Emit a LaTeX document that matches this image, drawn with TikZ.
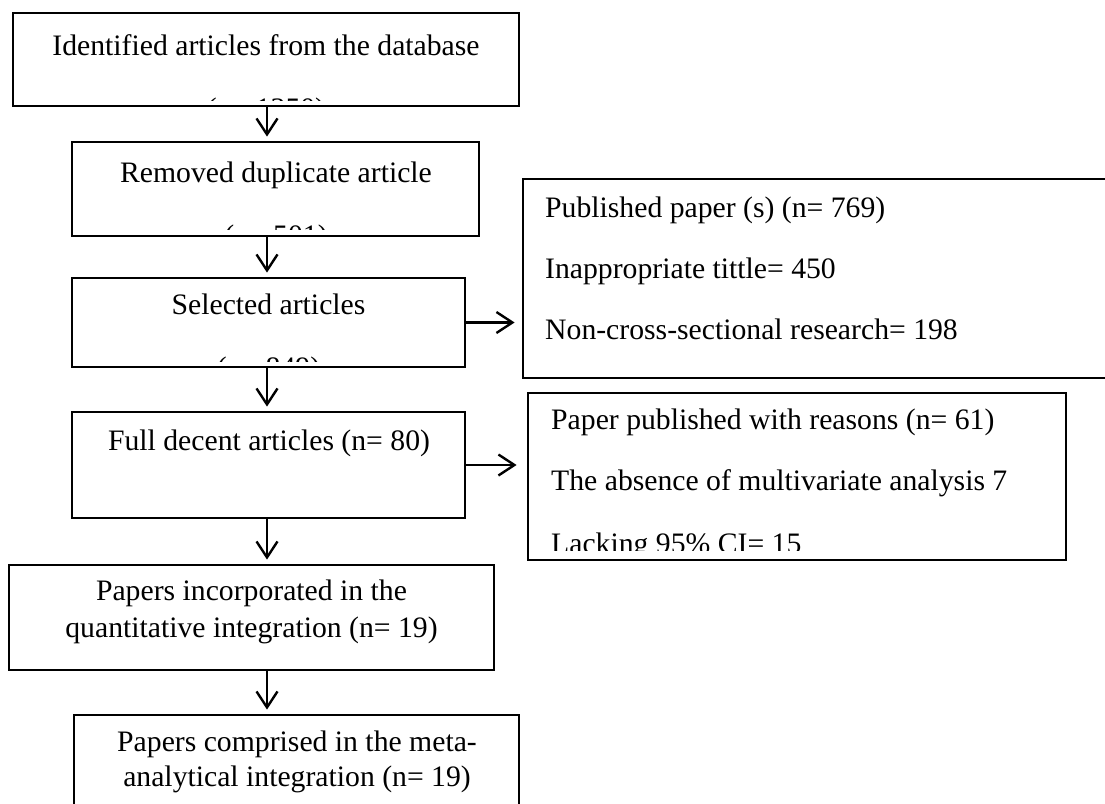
\documentclass[tikz,border=0pt]{standalone}
\usepackage{fontspec}
\setmainfont{Liberation Serif}
\usetikzlibrary{arrows.meta}

\tikzset{
  caja/.style={draw, line width=2.8pt, inner sep=0pt},
  texto/.style={anchor=base, inner sep=0pt, font=\fontsize{29.7}{36}\selectfont},
  textoizq/.style={texto, anchor=base west},
  flecha/.style={line width=2.4pt, -{Straight Barb[length=16pt,width=21pt]}, shorten >=4pt}
}

\begin{document}
\begin{tikzpicture}[x=1pt,y=-1pt]

\clip (0,0) rectangle (1105,803);

% Cajas de la columna principal
\node[caja, minimum width=506pt, minimum height=93pt] (b1) at (266,59.5) {};
\node[caja, minimum width=407pt, minimum height=94pt] (b2) at (275.5,189) {};
\node[caja, minimum width=393pt, minimum height=89pt] (b3) at (268.5,322.5) {};
\node[caja, minimum width=393pt, minimum height=106pt] (b4) at (268.5,465) {};
\node[caja, minimum width=485pt, minimum height=105pt] (b5) at (251.5,617.5) {};
\node[caja, minimum width=445pt, minimum height=100pt] (b6) at (296.5,765) {};

% Cajas de exclusiones
\node[caja, minimum width=597pt, minimum height=199pt] (bA) at (821.5,278.5) {};
\node[caja, minimum width=538pt, minimum height=167pt] (bB) at (797,476.5) {};

% Textos
\node[texto] (t1) at (266,55) {Identified articles from the database};
\node[texto] (t2) at (276,182) {Removed duplicate article};
\node[texto] (t3) at (268.5,314) {Selected articles};
\node[texto] (t4) at (269,450) {Full decent articles (n= 80)};
\node[texto] (t5a) at (251.5,600) {Papers incorporated in the};
\node[texto] (t5b) at (251.5,637) {quantitative integration (n= 19)};
\node[texto] (t6a) at (297,751) {Papers comprised in the meta-};
\node[texto] (t6b) at (297,786) {analytical integration (n= 19)};

\node[textoizq] (tA1) at (545,217) {Published paper (s) (n= 769)};
\node[textoizq] (tA2) at (545,278) {Inappropriate tittle= 450};
\node[textoizq] (tA3) at (545,339) {Non-cross-sectional research= 198};

\node[textoizq] (tB1) at (551,429) {Paper published with reasons (n= 61)};
\node[textoizq] (tB2) at (551,490) {The absence of multivariate analysis 7};

% Lineas cortadas por el borde
\begin{scope}
  \clip (b1.north west) rectangle ([yshift=7pt]b1.south east);
  \node[texto] (t1b) at (266,118) {(n= 1350)};
\end{scope}
\begin{scope}
  \clip (b2.north west) rectangle ([yshift=8pt]b2.south east);
  \node[texto] (t2b) at (276,245) {(n= 501)};
\end{scope}
\begin{scope}
  \clip (b3.north west) rectangle ([yshift=7pt]b3.south east);
  \node[texto] (t3b) at (268.5,377) {(n= 849)};
\end{scope}
\begin{scope}
  \clip (bB.north west) rectangle ([yshift=11pt]bB.south east);
  \node[textoizq] (tB3) at (551,553) {Lacking 95\% CI= 15};
\end{scope}

% Flechas
\coordinate (eje) at (267,0);
\draw[flecha] (b1.south -| eje) -- (b2.north -| eje);
\draw[flecha] (b2.south -| eje) -- (b3.north -| eje);
\draw[flecha] (b3.south -| eje) -- (b4.north -| eje);
\draw[flecha] (b4.south -| eje) -- (b5.north -| eje);
\draw[flecha] (b5.south -| eje) -- (b6.north -| eje);

\draw[flecha, shorten >=7pt] (b3.east) -- (b3.east -| bA.west);
\draw[flecha, shorten >=10pt] (b4.east) -- (b4.east -| bB.west);

\end{tikzpicture}
\end{document}
